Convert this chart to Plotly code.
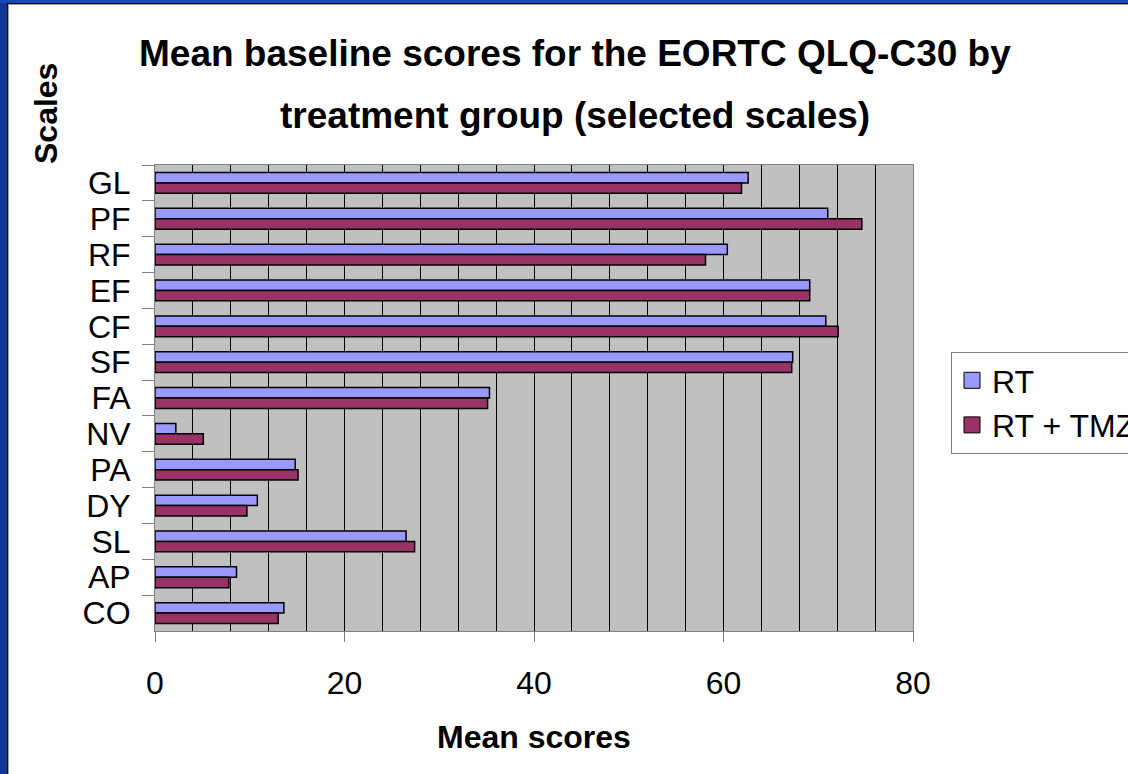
import plotly.graph_objects as go

categories = ["GL", "PF", "RF", "EF", "CF", "SF", "FA", "NV", "PA", "DY", "SL", "AP", "CO"]
rt_values = [62.6, 71.0, 60.4, 69.1, 70.8, 67.3, 35.3, 2.2, 14.8, 10.8, 26.5, 8.6, 13.6]
rt_tmz_values = [61.9, 74.6, 58.1, 69.1, 72.1, 67.2, 35.1, 5.1, 15.1, 9.7, 27.4, 7.8, 13.0]
series_names = ["RT", "RT + TMZ"]
x_ticks = [0, 20, 40, 60, 80]

W, H = 1128, 774
L, R, T, B = 155, 913, 165, 631  # plot area in pixels
PW, PH = R - L, B - T


def px(x):
    return (x - L) / PW


def py(y):
    return (B - y) / PH


c_rt = "#9999FF"
c_tmz = "#993366"
font = "Arial, Liberation Sans, sans-serif"

fig = go.Figure()
for name, vals, col in [(series_names[0], rt_values, c_rt), (series_names[1], rt_tmz_values, c_tmz)]:
    fig.add_trace(go.Bar(
        y=categories, x=vals, name=name, orientation="h",
        marker=dict(color=col, line=dict(color="black", width=1.5)),
        showlegend=False,
    ))
    fig.add_trace(go.Scatter(
        x=[None], y=[None], mode="markers", name=name,
        marker=dict(symbol="square", size=16, color=col, line=dict(color="black", width=1)),
        showlegend=True,
    ))

fig.update_layout(
    width=W, height=H,
    margin=dict(l=L, r=W - R, t=T, b=H - B, autoexpand=False),
    paper_bgcolor="white",
    plot_bgcolor="#C0C0C0",
    barmode="group",
    bargap=0.42,
    bargroupgap=0,
    font=dict(family=font, size=32, color="black"),
    showlegend=True,
    legend=dict(
        x=px(951), y=py(352), xanchor="left", yanchor="top",
        xref="paper", yref="paper",
        bgcolor="white", bordercolor="#808080", borderwidth=1,
        font=dict(family=font, size=32, color="black"),
        traceorder="normal",
        tracegroupgap=0,
    ),
    xaxis=dict(
        range=[0, 80], tickvals=x_ticks, ticktext=[str(v) for v in x_ticks],
        ticks="outside", ticklen=10, tickcolor="#808080", tickwidth=1,
        showline=True, linecolor="#808080", linewidth=1, mirror=True,
        showgrid=True, gridcolor="black", gridwidth=1,
        minor=dict(dtick=4, tick0=0, showgrid=True, gridcolor="black", gridwidth=1, ticks=""),
        zeroline=False,
        ticklabelstandoff=14,
        tickfont=dict(family=font, size=32),
        fixedrange=True,
    ),
    yaxis=dict(
        type="category", categoryorder="array", categoryarray=categories,
        autorange="reversed",
        tickmode="linear", tick0=0, dtick=1,
        tickson="boundaries", ticks="outside", ticklen=12, tickcolor="#808080", tickwidth=1,
        showline=True, linecolor="#808080", linewidth=1, mirror=True,
        showgrid=False, zeroline=False,
        ticklabelstandoff=17,
        tickfont=dict(family=font, size=32),
        fixedrange=True,
    ),
    annotations=[
        dict(text="<b>Mean baseline scores for the EORTC QLQ-C30 by</b>", x=px(575), y=py(54),
             xref="paper", yref="paper", xanchor="center", yanchor="middle", showarrow=False,
             font=dict(family=font, size=37)),
        dict(text="<b>treatment group (selected scales)</b>", x=px(575), y=py(115),
             xref="paper", yref="paper", xanchor="center", yanchor="middle", showarrow=False,
             font=dict(family=font, size=37)),
        dict(text="<b>Scales</b>", x=px(46), y=py(114), textangle=-90,
             xref="paper", yref="paper", xanchor="center", yanchor="middle", showarrow=False,
             font=dict(family=font, size=32)),
        dict(text="<b>Mean scores</b>", x=px(534), y=py(737),
             xref="paper", yref="paper", xanchor="center", yanchor="middle", showarrow=False,
             font=dict(family=font, size=32)),
    ],
    shapes=[
        # blue frame (left and top)
        dict(type="rect", xref="paper", yref="paper", x0=px(0), x1=px(7), y0=py(H), y1=py(0),
             fillcolor="#12358F", line=dict(width=0), layer="above"),
        dict(type="rect", xref="paper", yref="paper", x0=px(0), x1=px(W), y0=py(3), y1=py(0),
             fillcolor="#1A47B8", line=dict(width=0), layer="above"),
        dict(type="line", xref="paper", yref="paper", x0=px(7.5), x1=px(7.5), y0=py(H), y1=py(3),
             line=dict(color="#101020", width=1), layer="above"),
        dict(type="line", xref="paper", yref="paper", x0=px(7), x1=px(W), y0=py(3.5), y1=py(3.5),
             line=dict(color="#101020", width=1), layer="above"),
        dict(type="line", xref="paper", yref="paper", x0=px(8.5), x1=px(8.5), y0=py(H), y1=py(4),
             line=dict(color="#A0A0A0", width=1), layer="above"),
        dict(type="line", xref="paper", yref="paper", x0=px(8), x1=px(W), y0=py(4.5), y1=py(4.5),
             line=dict(color="#A0A0A0", width=1), layer="above"),
    ],
)

fig.write_html("out.html", config={"displayModeBar": False},
               post_script="document.body.style.margin='0';")
